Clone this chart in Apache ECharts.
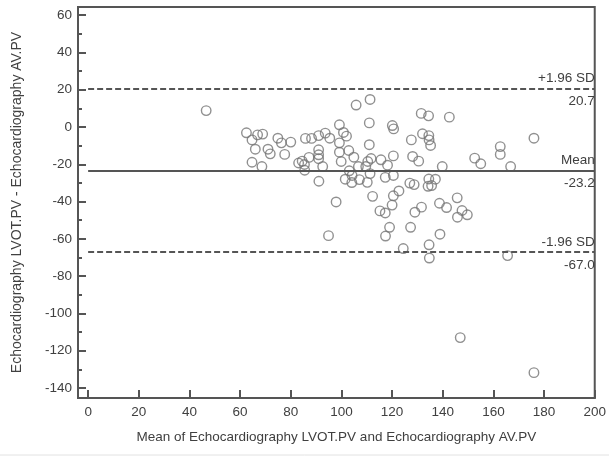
<!DOCTYPE html>
<html><head><meta charset="utf-8">
<script src="https://cdn.jsdelivr.net/npm/echarts@6/dist/echarts.min.js"></script>
<style>html,body{margin:0;padding:0;background:#fff}#c{width:609px;height:458px}</style>
</head><body><div id="c"></div>
<script>
// Mean of the two measurements (x) and their difference (y)
const meanValues = [46.6,62.5,64.7,66.9,68.9,66.0,64.7,68.6,71.0,71.9,74.9,76.3,80.0,77.6,83.1,84.5,85.4,87.2,85.5,85.8,88.2,91.0,93.6,95.4,91.0,91.0,91.0,92.6,91.1,94.9,97.9,99.2,100.8,102.0,99.2,99.2,102.9,99.9,104.9,103.1,104.2,101.5,104.1,107.1,110.2,111.3,105.8,111.3,111.0,111.0,106.7,109.6,110.4,111.7,112.3,115.6,118.2,120.5,120.1,120.6,117.3,120.5,122.7,120.5,120.0,115.2,117.3,119.0,117.4,124.4,127.3,127.6,128.1,130.5,127.0,128.7,129.0,131.6,131.5,134.4,132.0,134.5,134.6,135.2,134.5,137.1,134.2,135.6,142.6,139.8,138.7,141.5,145.7,147.6,149.7,145.8,138.9,134.6,134.7,152.6,155.0,162.7,162.7,166.8,165.6,176.0,146.9,176.0];
const diffValues = [8.8,-3.1,-6.9,-4.2,-3.8,-11.9,-18.9,-21.2,-11.9,-14.4,-6.0,-8.5,-8.1,-14.7,-19.3,-18.3,-20.1,-16.3,-23.2,-6.1,-6.1,-4.6,-3.3,-6.0,-12.2,-14.9,-17.0,-21.2,-29.1,-58.3,-40.2,1.2,-2.9,-4.9,-8.5,-13.5,-12.6,-18.5,-16.2,-23.5,-26.0,-28.0,-29.8,-28.2,-29.7,-25.0,11.8,14.8,2.2,-9.5,-21.2,-21.2,-18.5,-16.9,-37.2,-17.6,-20.5,-15.5,0.8,-1.0,-27.0,-26.0,-34.3,-36.9,-41.9,-45.0,-46.1,-53.8,-58.5,-65.2,-53.8,-6.9,-15.8,-18.3,-30.1,-30.9,-45.7,-43.0,7.3,6.0,-3.6,-4.6,-6.9,-9.9,-27.9,-28.0,-31.8,-31.4,5.3,-21.2,-40.9,-43.2,-38.0,-44.8,-47.1,-48.4,-57.5,-63.2,-70.3,-16.7,-19.7,-10.5,-14.7,-21.2,-69.0,-6.0,-113.0,-131.8];

const xTicks = [0,20,40,60,80,100,120,140,160,180,200];
const yTicks = [-140,-120,-100,-80,-60,-40,-20,0,20,40,60];
const yMinorTicks = [-130,-110,-90,-70,-50,-30,-10,10,30,50];

const limitValues = [20.7, -23.2, -67.0];
const limitNames = ['+1.96 SD', 'Mean', '-1.96 SD'];
const limitValueLabels = ['20.7', '-23.2', '-67.0'];
const limitDashed = [true, false, true];
const lineXRange = [0, 200];

const xName = 'Mean of Echocardiography LVOT.PV and Echocardiography AV.PV';
const yName = 'Echocardiography LVOT.PV - Echocardiography AV.PV';

const FONT = 'Liberation Sans, Arial, sans-serif';
const AX = '#555';
const TXT = '#404040';
const FS = 13.5;
const X_RANGE = [-4, 200];
const Y_RANGE = [-145.4, 64.4];

const points = meanValues.map((m, i) => [m, diffValues[i]]);

const markData = [];
limitValues.forEach((v, i) => {
  const ls = { color: AX, width: 2, type: limitDashed[i] ? [6, 3] : 'solid' };
  markData.push([
    { coord: [lineXRange[0], v], lineStyle: ls,
      label: { show: true, position: 'insideEndTop', formatter: limitNames[i], distance: [0, 3] } },
    { coord: [lineXRange[1], v] }
  ]);
  markData.push([
    { coord: [lineXRange[0], v], lineStyle: { color: 'rgba(0,0,0,0)', width: 0 },
      label: { show: true, position: 'insideEndBottom', formatter: limitValueLabels[i], distance: [0, 6] } },
    { coord: [lineXRange[1], v] }
  ]);
});

function tickAxis(base, values, len) {
  return {
    type: 'value', min: base[0], max: base[1],
    axisLine: { show: false, onZero: false },
    axisTick: { show: true, inside: true, length: len, customValues: values, lineStyle: { color: AX, width: 2 } },
    axisLabel: { show: false },
    splitLine: { show: false }
  };
}

const xTickAxis = Object.assign(tickAxis(X_RANGE, xTicks, 8), { position: 'bottom' });
const yTickAxis = Object.assign(tickAxis(Y_RANGE, yTicks, 8), { position: 'left' });
const yMinorAxis = Object.assign(tickAxis(Y_RANGE, yMinorTicks, 4), { position: 'left' });

const chart = echarts.init(document.getElementById('c'), null, { renderer: 'canvas' });
chart.setOption({
  animation: false,
  backgroundColor: '#fff',
  textStyle: { fontFamily: FONT },
  grid: { left: 78, right: 10, top: 7, bottom: 60, show: true, borderColor: AX, borderWidth: 2, backgroundColor: 'transparent' },
  xAxis: [{
    type: 'value', min: X_RANGE[0], max: X_RANGE[1],
    name: xName, nameLocation: 'middle', nameGap: 32,
    nameTextStyle: { color: TXT, fontSize: 13.5, fontFamily: FONT },
    axisLine: { show: true, onZero: false, lineStyle: { color: AX, width: 2 } },
    axisTick: { show: false },
    axisLabel: { customValues: xTicks, color: TXT, fontSize: FS, fontFamily: FONT, margin: 7 },
    splitLine: { show: false }
  }, xTickAxis],
  yAxis: [{
    type: 'value', min: Y_RANGE[0], max: Y_RANGE[1],
    name: yName, nameLocation: 'middle', nameGap: 54, nameRotate: 90,
    nameTextStyle: { color: TXT, fontSize: 14, fontFamily: FONT },
    axisLine: { show: true, onZero: false, lineStyle: { color: AX, width: 2 } },
    axisTick: { show: false },
    axisLabel: { customValues: yTicks, color: TXT, fontSize: FS, fontFamily: FONT, margin: 6 },
    splitLine: { show: false }
  }, yTickAxis, yMinorAxis],
  graphic: [{
    type: 'line', shape: { x1: 0, y1: 455, x2: 609, y2: 455 },
    style: { stroke: '#e2e2e2', lineWidth: 1 }, silent: true
  }],
  series: [{
    type: 'scatter',
    data: points,
    symbol: 'circle',
    symbolSize: 9.5,
    itemStyle: { color: 'rgba(255,255,255,0)', borderColor: '#747474', borderWidth: 1.4 },
    z: 3,
    markLine: {
      silent: true, symbol: ['none', 'none'], animation: false,
      label: { color: TXT, fontSize: FS, fontFamily: FONT },
      data: markData
    }
  }]
});
</script>
</body></html>
